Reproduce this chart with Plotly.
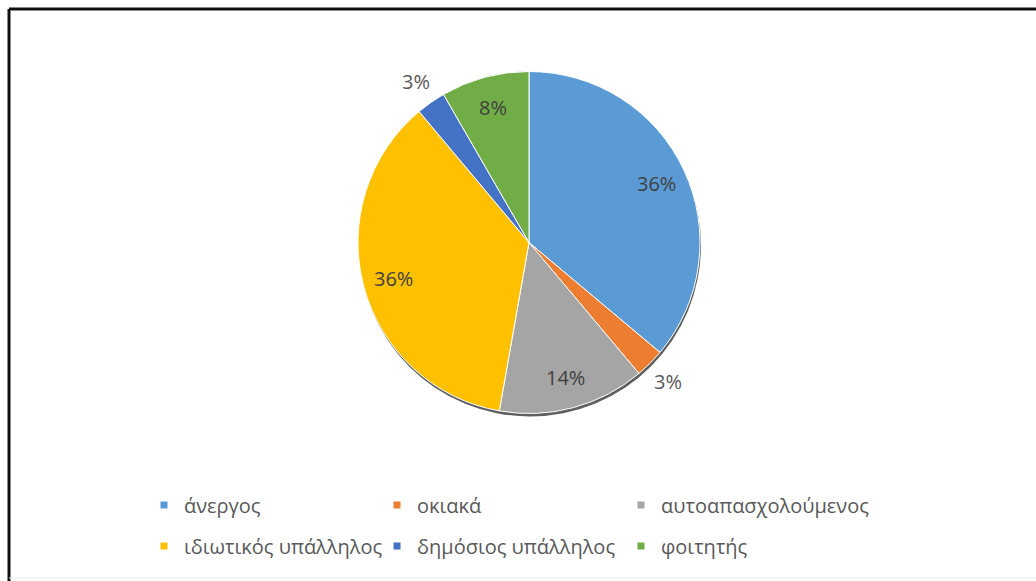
import math
import plotly.graph_objects as go

# Occupational status of respondents (counts)
categories = ["άνεργος", "οκιακά", "αυτοαπασχολούμενος",
              "ιδιωτικός υπάλληλος", "δημόσιος υπάλληλος", "φοιτητής"]
counts = [13, 1, 5, 13, 1, 3]
colors = ["#5B9BD5", "#ED7D31", "#A5A5A5", "#FFC000", "#4472C4", "#70AD47"]
label_outside = [False, True, False, False, True, False]

W, H = 1036, 581
cx, cy, r = 529, 242.5, 171

fig = go.Figure()
fig.add_trace(go.Pie(
    labels=categories,
    values=counts,
    sort=False,
    direction="clockwise",
    rotation=0,
    marker=dict(colors=colors, line=dict(color="white", width=1)),
    textinfo="none",
    hoverinfo="label+percent",
    showlegend=False,
    domain=dict(x=[(cx - r) / W, (cx + r) / W],
                y=[(H - cy - r) / H, (H - cy + r) / H]),
))

# percentage labels placed along each slice's bisector
total = sum(counts)
annotations = []
start = 0.0
for v, outside in zip(counts, label_outside):
    frac = v / total
    mid = (start + frac / 2) * 2 * math.pi
    start += frac
    k = 1.15 if outside else 0.82
    px = cx + math.sin(mid) * r * k
    py = cy - math.cos(mid) * r * k
    annotations.append(dict(
        x=px / W, y=1 - py / H, xref="paper", yref="paper",
        text=f"{round(frac * 100)}%", showarrow=False,
        xanchor="center", yanchor="middle",
        font=dict(size=20, color="#595959" if outside else "#404040"),
    ))

# legend: two rows of three, one small legend box per entry
col_x = [144, 377, 621]
row_y = [505, 546]
legend_layouts = {}
for i, (name, col) in enumerate(zip(categories, colors)):
    key = "legend" if i == 0 else f"legend{i + 1}"
    fig.add_trace(go.Scatter(
        x=[None], y=[None], mode="markers", name=name,
        marker=dict(symbol="square", size=7, color=col),
        legend=key,
        hoverinfo="skip",
    ))
    legend_layouts[key] = dict(
        orientation="h",
        x=col_x[i % 3] / W, xanchor="left",
        y=1 - row_y[i // 3] / H, yanchor="middle",
        font=dict(size=20, color="#595959"),
        itemclick=False, itemdoubleclick=False,
        bgcolor="rgba(0,0,0,0)",
    )

# drop shadow under the pie and the frame lines
shapes = [
    dict(type="circle", xref="paper", yref="paper", layer="below",
         x0=(cx - r + 1) / W, x1=(cx + r + 1) / W,
         y0=(H - cy - r - 3) / H, y1=(H - cy + r - 3) / H,
         fillcolor="rgba(55,55,55,0.8)", line=dict(width=0)),
    dict(type="line", xref="paper", yref="paper",
         x0=9 / W, x1=1, y0=(H - 9) / H, y1=(H - 9) / H,
         line=dict(color="#111111", width=3)),
    dict(type="line", xref="paper", yref="paper",
         x0=9 / W, x1=9 / W, y0=0, y1=(H - 9) / H,
         line=dict(color="#111111", width=3)),
    dict(type="line", xref="paper", yref="paper",
         x0=9 / W, x1=1, y0=3 / H, y1=3 / H,
         line=dict(color="#ECECEC", width=1)),
]

fig.update_layout(
    width=W, height=H,
    margin=dict(l=0, r=0, t=0, b=0),
    paper_bgcolor="white",
    plot_bgcolor="white",
    font=dict(family="Open Sans, Noto Sans, sans-serif", color="#595959"),
    shapes=shapes,
    annotations=annotations,
    xaxis=dict(visible=False),
    yaxis=dict(visible=False),
    **legend_layouts,
)

fig.write_html("out.html")
